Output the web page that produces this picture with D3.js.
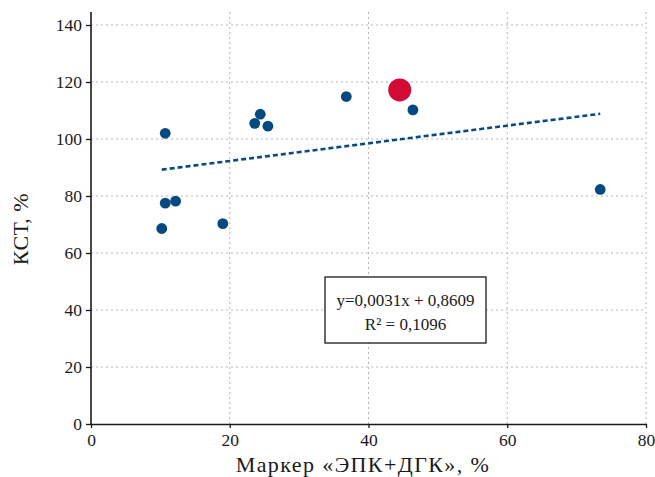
<!DOCTYPE html>
<html>
<head>
<meta charset="utf-8">
<script src="https://cdn.jsdelivr.net/npm/d3@7"></script>
<style>
  body { margin: 0; background: #fff; }
  svg text { font-family: "Liberation Serif", "DejaVu Serif", serif; fill: #1a1a1a; }
</style>
</head>
<body>
<svg id="chart" width="655" height="477"></svg>
<script>
// DATA
const markerEpkDgk = [10.7, 10.7, 12.2, 10.2, 19.0, 23.6, 24.4, 25.5, 36.8, 46.4, 73.4];
const kst = [102.0, 77.5, 78.2, 68.6, 70.3, 105.5, 108.7, 104.5, 114.9, 110.2, 82.3];
const highlightPoint = [44.5, 117.2];
const trendSlope = 0.31;      // y=0,0031x + 0,8609 in percent units
const trendIntercept = 86.09;
const xTicks = [0, 20, 40, 60, 80];
const yTicks = [0, 20, 40, 60, 80, 100, 120, 140];
const equationLines = ["y=0,0031x + 0,8609", "R² = 0,1096"];

// CANVAS SETUP
const canvas = d3.select("#chart");
const margin = { top: 25, right: 9, bottom: 53, left: 91 };
const width = +canvas.attr("width") - margin.left - margin.right,
  height = +canvas.attr("height") - margin.top - margin.bottom;

const g = canvas.append("g").attr("transform", `translate(${margin.left},${margin.top})`);

const x = d3.scaleLinear().domain([0, 80]).range([0, width]);
const y = d3.scaleLinear().domain([0, 140]).range([height, 0]);

// grid
g.append("g")
  .selectAll("line")
  .data(yTicks.filter((d) => d > 0))
  .join("line")
  .attr("x1", 0)
  .attr("x2", width)
  .attr("y1", (d) => y(d))
  .attr("y2", (d) => y(d))
  .attr("stroke", "#b5b5b5")
  .attr("stroke-width", 1)
  .attr("stroke-dasharray", "2,3");

g.append("g")
  .selectAll("line")
  .data(xTicks.filter((d) => d > 0))
  .join("line")
  .attr("x1", (d) => x(d))
  .attr("x2", (d) => x(d))
  .attr("y1", -13)
  .attr("y2", height)
  .attr("stroke", "#b5b5b5")
  .attr("stroke-width", 1)
  .attr("stroke-dasharray", "2,3");

// axes
const gx = g.append("g")
  .attr("transform", `translate(0,${height})`)
  .call(d3.axisBottom(x).tickValues(xTicks).tickSize(4).tickSizeOuter(0).tickPadding(6));
const gy = g.append("g")
  .call(d3.axisLeft(y).tickValues(yTicks).tickSize(5).tickSizeOuter(0).tickPadding(4));

[gx, gy].forEach((ax) => {
  ax.attr("font-family", null);
  ax.select(".domain").attr("stroke", "#1a1a1a").attr("stroke-width", 1.6);
  ax.selectAll(".tick line").attr("stroke", "#1a1a1a").attr("stroke-width", 1.3);
  ax.selectAll(".tick text")
    .style("font-family", "'Liberation Serif', serif")
    .style("font-size", "17.5px")
    .attr("fill", "#1a1a1a");
});
gy.select(".domain").attr("d", `M0,${height}V-13`);

// trend line
const xMin = d3.min(markerEpkDgk), xMax = d3.max(markerEpkDgk);
g.append("line")
  .attr("x1", x(xMin))
  .attr("y1", y(trendSlope * xMin + trendIntercept))
  .attr("x2", x(xMax))
  .attr("y2", y(trendSlope * xMax + trendIntercept))
  .attr("stroke", "#0a4a7e")
  .attr("stroke-width", 2.6)
  .attr("stroke-dasharray", "5,3");

// points
g.append("g")
  .selectAll("circle")
  .data(markerEpkDgk.map((d, i) => [d, kst[i]]))
  .join("circle")
  .attr("cx", (d) => x(d[0]))
  .attr("cy", (d) => y(d[1]))
  .attr("r", 5.4)
  .attr("fill", "#044a80");

g.append("circle")
  .attr("cx", x(highlightPoint[0]))
  .attr("cy", y(highlightPoint[1]))
  .attr("r", 11.5)
  .attr("fill", "#d10a36");

// equation box
const box = g.append("g").attr("transform", `translate(${325 - margin.left},${277 - margin.top})`);
box.append("rect")
  .attr("width", 161)
  .attr("height", 66)
  .attr("fill", "#fff")
  .attr("stroke", "#1a1a1a")
  .attr("stroke-width", 1.3);
box.selectAll("text")
  .data(equationLines)
  .join("text")
  .attr("x", 80.5)
  .attr("y", (d, i) => 29 + i * 24)
  .attr("text-anchor", "middle")
  .style("font-size", "17px")
  .text((d) => d);

// axis titles
canvas.append("text")
  .attr("x", 363)
  .attr("y", 472)
  .attr("text-anchor", "middle")
  .style("font-size", "22px")
  .style("letter-spacing", "1.4px")
  .text("Маркер «ЭПК+ДГК», %");

canvas.append("text")
  .attr("transform", `translate(28,${229}) rotate(-90)`)
  .attr("text-anchor", "middle")
  .style("font-size", "22px")
  .style("letter-spacing", "0.5px")
  .text("КСТ, %");
</script>
</body>
</html>
